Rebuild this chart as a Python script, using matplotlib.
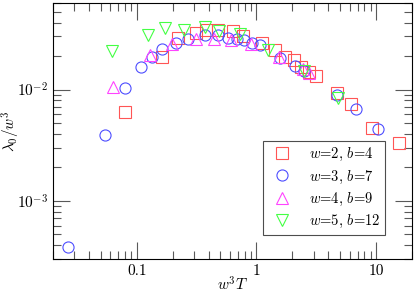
import matplotlib
matplotlib.use('Agg')
import matplotlib.pyplot as plt
from matplotlib.ticker import FixedLocator, FixedFormatter, LogLocator, NullFormatter

plt.rcParams['font.family'] = 'serif'
plt.rcParams['font.serif'] = ['cmr10', 'DejaVu Serif']
plt.rcParams['mathtext.fontset'] = 'cm'
plt.rcParams['axes.formatter.use_mathtext'] = True
plt.rcParams['font.size'] = 11

# w=2, b=4
x2 = [0.080, 0.161, 0.221, 0.314, 0.38, 0.476, 0.635, 0.769, 1.11, 1.43, 1.73,
      2.05, 2.36, 2.73, 3.14, 4.67, 6.22, 9.2, 15.5]
y2 = [0.0063, 0.0197, 0.0288, 0.0324, 0.034, 0.034, 0.0334, 0.0302, 0.0263, 0.0225,
      0.0197, 0.0185, 0.016, 0.0145, 0.0131, 0.00927, 0.00746, 0.00453, 0.0033]
# w=3, b=7
x3 = [0.0266, 0.054, 0.0805, 0.108, 0.134, 0.161, 0.214, 0.268, 0.373, 0.476, 0.577,
      0.686, 0.794, 0.914, 1.08, 1.58, 2.1, 2.48, 4.7, 6.77, 10.4]
y3 = [0.000387, 0.0039, 0.0103, 0.0159, 0.0197, 0.0230, 0.0263, 0.0286, 0.0306, 0.0306,
      0.0292, 0.0286, 0.0277, 0.0263, 0.0249, 0.0194, 0.0163, 0.0148, 0.00897, 0.00664,
      0.00438]
# w=4, b=9
x4 = [0.0635, 0.128, 0.198, 0.314, 0.438, 0.615, 0.904, 1.55, 2.43, 2.77]
y4 = [0.0106, 0.0203, 0.0258, 0.0286, 0.0286, 0.0277, 0.0255, 0.0198, 0.0153, 0.014]
# w=5, b=12
x5 = [0.0627, 0.124, 0.173, 0.248, 0.369, 0.485, 0.731, 1.24, 2.48, 4.85]
y5 = [0.0222, 0.0306, 0.0358, 0.034, 0.0363, 0.0334, 0.0313, 0.0227, 0.0148, 0.00843]

series = [
    (x2, y2, 's', '#ff5555', r'$w$=2, $b$=4'),
    (x3, y3, 'o', '#4d4dff', r'$w$=3, $b$=7'),
    (x4, y4, '^', '#ff44ff', r'$w$=4, $b$=9'),
    (x5, y5, 'v', '#44ff44', r'$w$=5, $b$=12'),
]

fig = plt.figure(figsize=(4.15, 2.95), dpi=100)
ax = fig.add_axes([0.128, 0.122, 0.865, 0.868])

for xs, ys, m, c, lab in series:
    ax.plot(xs, ys, m, mfc='none', mec=c, ms=8, mew=0.8, ls='none', label=lab)

ax.set_xscale('log')
ax.set_yscale('log')
ax.set_xlim(0.02, 20)
ax.set_ylim(3e-4, 6e-2)

ax.xaxis.set_major_locator(FixedLocator([0.1, 1, 10]))
ax.xaxis.set_major_formatter(FixedFormatter(['0.1', '1', '10']))
ax.xaxis.set_minor_locator(LogLocator(base=10, subs=range(2, 10)))
ax.xaxis.set_minor_formatter(NullFormatter())
ax.yaxis.set_major_locator(FixedLocator([1e-3, 1e-2]))
ax.yaxis.set_major_formatter(FixedFormatter([r'$10^{-3}$', r'$10^{-2}$']))
ax.yaxis.set_minor_locator(LogLocator(base=10, subs=range(2, 10)))
ax.yaxis.set_minor_formatter(NullFormatter())

ax.tick_params(which='both', direction='in', top=True, right=True, color='0.35')
ax.tick_params(which='major', length=12, width=0.8)
ax.tick_params(which='minor', length=6, width=0.8)
for s in ax.spines.values():
    s.set_linewidth(0.8)

ax.set_xlabel(r'$w^3T$', va='center')
ax.xaxis.set_label_coords(0.5, -0.1)
ax.set_ylabel(r'$\lambda_0/w^3$', va='center')
ax.yaxis.set_label_coords(-0.118, 0.5)

leg = ax.legend(loc='lower right', bbox_to_anchor=(0.925, 0.094), fancybox=False,
                edgecolor='0.3', framealpha=1, fontsize=10.5, handletextpad=0.8,
                borderpad=0.35, labelspacing=0.35, borderaxespad=0)
leg.get_frame().set_linewidth(0.8)

fig.savefig('out.png', dpi=100)
